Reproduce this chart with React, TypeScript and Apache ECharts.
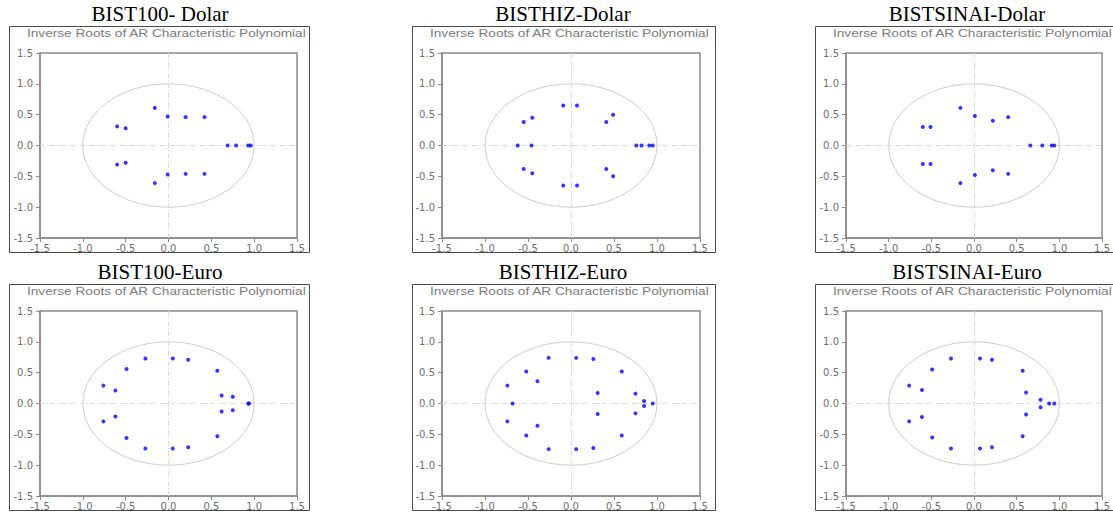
import React, { useEffect, useRef } from "react";
import * as echarts from "echarts";

// ---- Data ----
const panelTitles = [
  "BIST100- Dolar",
  "BISTHIZ-Dolar",
  "BISTSINAI-Dolar",
  "BIST100-Euro",
  "BISTHIZ-Euro",
  "BISTSINAI-Euro",
];
const subtitleText = "Inverse Roots of AR Characteristic Polynomial";
const axisMin = -1.5;
const axisMax = 1.5;
const axisStep = 0.5;

// inverse roots [real, imaginary]
const bist100Dolar = [
  [-0.16, 0.61], [-0.16, -0.61], [-0.01, 0.47], [-0.01, -0.47],
  [0.2, 0.46], [0.2, -0.46], [0.42, 0.46], [0.42, -0.46],
  [-0.6, 0.31], [-0.6, -0.31], [-0.5, 0.28], [-0.5, -0.28],
  [0.69, 0], [0.79, 0], [0.93, 0], [0.96, 0],
];
const bisthizDolar = [
  [-0.09, 0.65], [-0.09, -0.65], [0.07, 0.65], [0.07, -0.65],
  [0.49, 0.5], [0.49, -0.5], [0.41, 0.38], [0.41, -0.38],
  [-0.45, 0.45], [-0.45, -0.45], [-0.55, 0.38], [-0.55, -0.38],
  [-0.62, 0], [-0.46, 0], [0.76, 0], [0.82, 0], [0.91, 0], [0.95, 0],
];
const bistsinaiDolar = [
  [-0.16, 0.61], [-0.16, -0.61], [0.01, 0.48], [0.01, -0.48],
  [0.22, 0.4], [0.22, -0.4], [0.4, 0.46], [0.4, -0.46],
  [-0.6, 0.3], [-0.6, -0.3], [-0.51, 0.3], [-0.51, -0.3],
  [0.66, 0], [0.8, 0], [0.91, 0], [0.94, 0],
];
const bist100Euro = [
  [-0.27, 0.73], [-0.27, -0.73], [0.05, 0.73], [0.05, -0.73],
  [0.23, 0.71], [0.23, -0.71], [0.57, 0.53], [0.57, -0.53],
  [-0.49, 0.56], [-0.49, -0.56], [-0.76, 0.29], [-0.76, -0.29],
  [-0.62, 0.21], [-0.62, -0.21], [0.62, 0.13], [0.62, -0.13],
  [0.75, 0.11], [0.75, -0.11], [0.93, 0], [0.94, 0],
];
const bisthizEuro = [
  [-0.26, 0.74], [-0.26, -0.74], [0.06, 0.74], [0.06, -0.74],
  [0.26, 0.72], [0.26, -0.72], [0.59, 0.52], [0.59, -0.52],
  [-0.52, 0.52], [-0.52, -0.52], [-0.39, 0.36], [-0.39, -0.36],
  [-0.74, 0.29], [-0.74, -0.29], [0.31, 0.17], [0.31, -0.17],
  [0.75, 0.16], [0.75, -0.16], [0.85, 0.04], [0.85, -0.04],
  [-0.68, 0], [0.95, 0],
];
const bistsinaiEuro = [
  [-0.27, 0.73], [-0.27, -0.73], [0.07, 0.73], [0.07, -0.73],
  [0.21, 0.71], [0.21, -0.71], [0.57, 0.53], [0.57, -0.53],
  [-0.49, 0.55], [-0.49, -0.55], [-0.76, 0.29], [-0.76, -0.29],
  [-0.61, 0.22], [-0.61, -0.22], [0.61, 0.18], [0.61, -0.18],
  [0.78, 0.06], [0.78, -0.06], [0.88, 0], [0.94, 0],
];
const panelData = [bist100Dolar, bisthizDolar, bistsinaiDolar, bist100Euro, bisthizEuro, bistsinaiEuro];
// unit circle: [centre x, centre y, radius]
const unitCircle = [[0, 0, 1]];

// ---- Layout ----
const plotLeft = [40, 442, 846];
const plotWidth = [257, 258, 257];
const plotTop = [53, 311];
const plotHeight = 185;
const frameLeft = [9, 412, 815];
const frameWidth = [300, 303, 300];
const frameTop = [26, 284];
const frameHeight = 226;
const titleCenter = [160, 563, 967];
const titleMid = [14, 272];

const AXIS_COLOR = "#8a8a8a";
const LABEL_COLOR = "#6e6e6e";

export default function App() {
  const ref = useRef<HTMLDivElement>(null);

  useEffect(() => {
    if (!ref.current) return;
    const chart = echarts.init(ref.current, null, { renderer: "svg" });

    const grids: any[] = [];
    const xAxes: any[] = [];
    const yAxes: any[] = [];
    const series: any[] = [];
    const graphics: any[] = [];

    panelData.forEach((pts, i) => {
      const col = i % 3;
      const row = Math.floor(i / 3);
      grids.push({
        left: plotLeft[col],
        top: plotTop[row],
        width: plotWidth[col],
        height: plotHeight,
        show: true,
        borderColor: AXIS_COLOR,
        borderWidth: 1.5,
        backgroundColor: "transparent",
      });
      const axisCommon = {
        gridIndex: i,
        type: "value",
        min: axisMin,
        max: axisMax,
        interval: axisStep,
        axisLine: { show: true, onZero: false, lineStyle: { color: AXIS_COLOR, width: 1.5 } },
        axisTick: { show: true, inside: false, length: 4, lineStyle: { color: AXIS_COLOR, width: 1 } },
        splitLine: { show: false },
        axisLabel: {
          color: LABEL_COLOR,
          fontFamily: "DejaVu Sans",
          fontSize: 10,
          hideOverlap: false,
          formatter: (v: number) => v.toFixed(1),
        },
      };
      xAxes.push({ ...axisCommon, axisLabel: { ...axisCommon.axisLabel, margin: 5 } });
      yAxes.push({ ...axisCommon, axisLabel: { ...axisCommon.axisLabel, margin: 7 } });

      series.push({
        type: "custom",
        xAxisIndex: i,
        yAxisIndex: i,
        data: unitCircle,
        silent: true,
        z: 1,
        renderItem: (_params: any, api: any) => {
          const c = api.coord([api.value(0), api.value(1)]);
          const r = api.value(2);
          const s = api.size([r, r]);
          return {
            type: "ellipse",
            shape: { cx: c[0], cy: c[1], rx: s[0], ry: s[1] },
            style: { fill: "none", stroke: "#cccccc", lineWidth: 1 },
          };
        },
        markLine: {
          silent: true,
          symbol: "none",
          label: { show: false },
          lineStyle: { color: "#d9d9d9", type: [5, 2, 1, 2], width: 1 },
          emphasis: { disabled: true },
          data: [{ xAxis: 0 }, { yAxis: 0 }],
        },
      });
      series.push({
        type: "scatter",
        xAxisIndex: i,
        yAxisIndex: i,
        data: pts,
        symbol: "circle",
        symbolSize: 4,
        itemStyle: { color: "#0000ff" },
        z: 5,
      });

      graphics.push({
        type: "rect",
        shape: {
          x: frameLeft[col] + 0.5,
          y: frameTop[row] + 0.5,
          width: frameWidth[col],
          height: frameHeight,
        },
        style: { fill: "none", stroke: "#4a4a4a", lineWidth: 1 },
        silent: true,
      });
      graphics.push({
        type: "text",
        x: titleCenter[col],
        y: titleMid[row],
        style: {
          text: panelTitles[i],
          fontSize: 21,
          fontFamily: "Liberation Serif",
          fontWeight: "normal",
          fill: "#000000",
          textAlign: "center",
          textVerticalAlign: "middle",
        },
        silent: true,
      });
      graphics.push({
        type: "text",
        x: frameLeft[col] + 18,
        y: frameTop[row] + 7.5,
        scaleX: 1.3,
        style: {
          text: subtitleText,
          fontSize: 10.5,
          fontFamily: "Liberation Sans",
          fontWeight: "normal",
          fill: "#7a7a7a",
          textAlign: "left",
          textVerticalAlign: "middle",
        },
        silent: true,
      });
    });

    chart.setOption({
      animation: false,
      backgroundColor: "#ffffff",
      grid: grids,
      xAxis: xAxes,
      yAxis: yAxes,
      series,
      graphic: graphics,
    });

    return () => chart.dispose();
  }, []);

  return (
    <div
      ref={ref}
      style={{ position: "absolute", left: 0, top: 0, width: 1113, height: 515, background: "#fff" }}
    />
  );
}
